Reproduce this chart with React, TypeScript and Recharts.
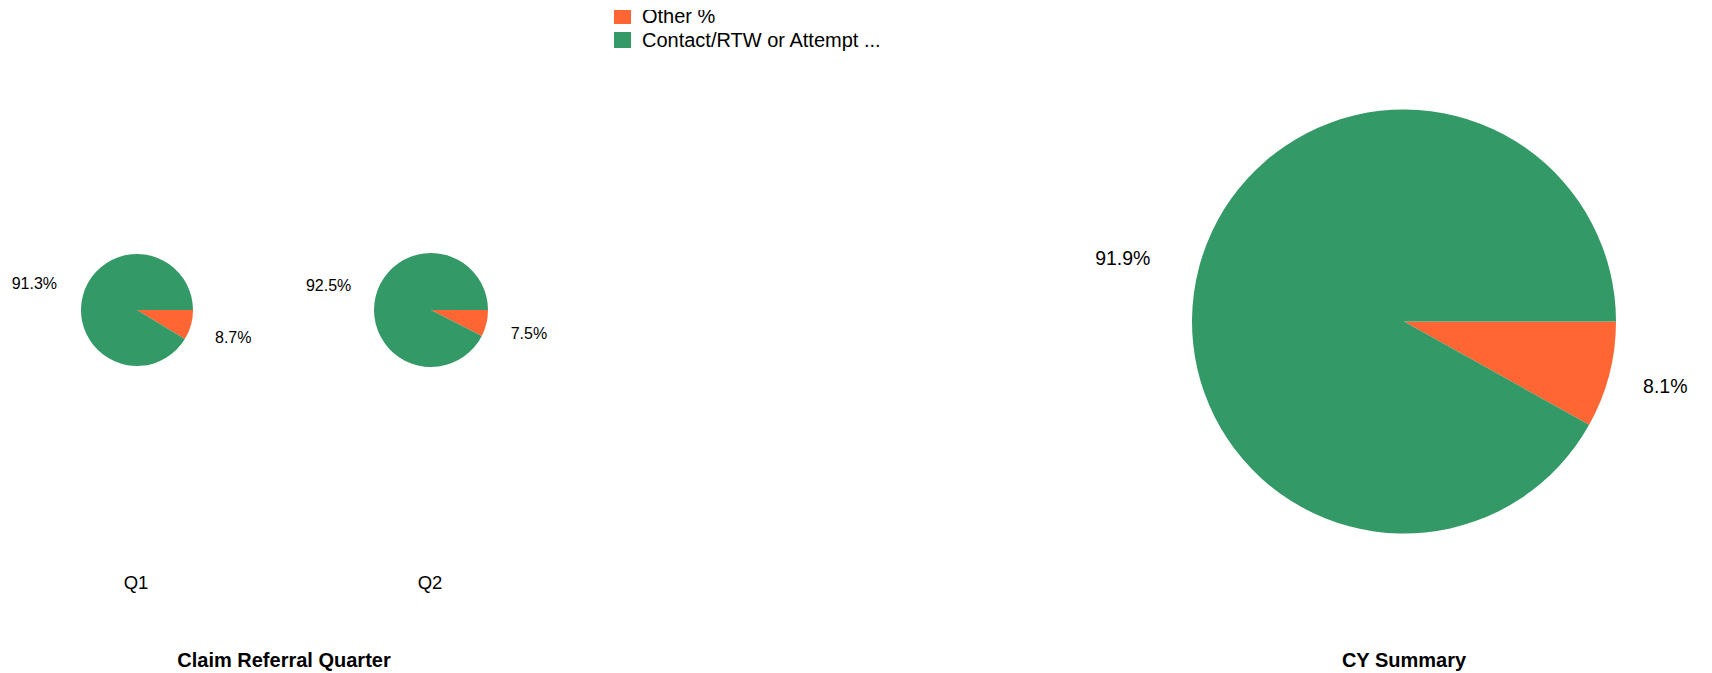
import React from "react";
import { PieChart, Pie, Cell } from "recharts";

const seriesNames = ["Other %", "Contact/RTW or Attempt ..."];
const seriesColors = ["#FF6633", "#339966"];

const q1Values = [8.7, 91.3];
const q2Values = [7.5, 92.5];
const cyValues = [8.1, 91.9];

const quarterLabels = ["Q1", "Q2"];
const groupTitles = ["Claim Referral Quarter", "CY Summary"];

const FONT = "Arial, 'Liberation Sans', sans-serif";

const toData = (vals: number[]) => vals.map((v, i) => ({ name: seriesNames[i], value: v }));

const makeLabel = (offRight: number, offLeft: number, dyRight: number, dyLeft: number, fontSize: number) => (props: any) => {
  const { cx, cy, midAngle, outerRadius, value } = props;
  const rad = (-midAngle * Math.PI) / 180;
  const cos = Math.cos(rad);
  const right = cos >= 0;
  const r = outerRadius + (right ? offRight : offLeft);
  const x = cx + r * cos;
  const y = cy + r * Math.sin(rad) + (right ? dyRight : dyLeft);
  return (
    <text
      x={x}
      y={y}
      textAnchor={right ? "start" : "end"}
      dominantBaseline="central"
      fill="#000"
      fontSize={fontSize}
      fontFamily={FONT}
    >
      {`${value}%`}
    </text>
  );
};

export default function App() {
  return (
    <div style={{ position: "absolute", left: 0, top: 0, width: 1712, height: 673, background: "#fff", fontFamily: FONT }}>
      <PieChart width={1712} height={673} margin={{ top: 0, right: 0, bottom: 0, left: 0 }}>
        <Pie
          data={toData(q1Values)}
          dataKey="value"
          nameKey="name"
          cx={137}
          cy={310}
          outerRadius={56}
          startAngle={0}
          endAngle={-360}
          stroke="none"
          labelLine={false}
          label={makeLabel(25, 27, 6, -4, 16)}
          isAnimationActive={false}
        >
          {q1Values.map((_, i) => (
            <Cell key={i} fill={seriesColors[i]} />
          ))}
        </Pie>
        <Pie
          data={toData(q2Values)}
          dataKey="value"
          nameKey="name"
          cx={431}
          cy={310}
          outerRadius={57}
          startAngle={0}
          endAngle={-360}
          stroke="none"
          labelLine={false}
          label={makeLabel(25, 25, 4, -5, 16)}
          isAnimationActive={false}
        >
          {q2Values.map((_, i) => (
            <Cell key={i} fill={seriesColors[i]} />
          ))}
        </Pie>
        <Pie
          data={toData(cyValues)}
          dataKey="value"
          nameKey="name"
          cx={1404}
          cy={321.5}
          outerRadius={212}
          startAngle={0}
          endAngle={-360}
          stroke="none"
          labelLine={false}
          label={makeLabel(35, 50, 2, 2, 19.5)}
          isAnimationActive={false}
        >
          {cyValues.map((_, i) => (
            <Cell key={i} fill={seriesColors[i]} />
          ))}
        </Pie>
      </PieChart>

      <svg width={1712} height={673} style={{ position: "absolute", left: 0, top: 0, pointerEvents: "none" }}>
        <text x={136} y={582} textAnchor="middle" dominantBaseline="central" fontSize={18.5} fontFamily={FONT} fill="#000">
          {quarterLabels[0]}
        </text>
        <text x={430} y={582} textAnchor="middle" dominantBaseline="central" fontSize={18.5} fontFamily={FONT} fill="#000">
          {quarterLabels[1]}
        </text>
        <text x={284} y={660} textAnchor="middle" dominantBaseline="central" fontSize={20} fontWeight="bold" fontFamily={FONT} fill="#000">
          {groupTitles[0]}
        </text>
        <text x={1404} y={660} textAnchor="middle" dominantBaseline="central" fontSize={20} fontWeight="bold" fontFamily={FONT} fill="#000">
          {groupTitles[1]}
        </text>
      </svg>

      <div style={{ position: "absolute", left: 614, top: 10, width: 300, height: 42, overflow: "hidden" }}>
        <div style={{ marginTop: -6 }}>
          {seriesNames.map((n, i) => (
            <div key={n} style={{ display: "flex", alignItems: "center", height: 24 }}>
              <div style={{ width: 17, height: 16, background: seriesColors[i], marginRight: 11, flex: "none" }} />
              <span style={{ fontSize: 20, lineHeight: "24px", color: "#000", whiteSpace: "nowrap", fontFamily: FONT }}>{n}</span>
            </div>
          ))}
        </div>
      </div>
    </div>
  );
}
